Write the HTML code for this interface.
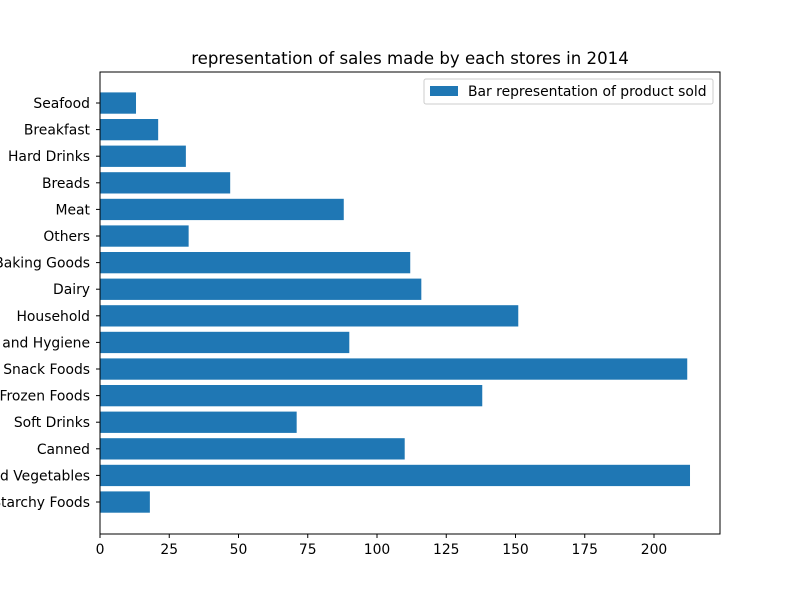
<!DOCTYPE html>
<html><head><meta charset="utf-8"><style>
body{margin:0;background:#fff}
svg{display:block;font-family:"DejaVu Sans","Liberation Sans",sans-serif}
</style></head><body>
<svg id="chart" width="800" height="600" viewBox="0 0 800 600">
<rect width="800" height="600" fill="#fff"/>
<text x="410" y="64" font-size="16.6" text-anchor="middle">representation of sales made by each stores in 2014</text>
<g id="bars"></g>
<g id="yticks"></g>
<g id="xticks"></g>
<rect x="100" y="72" width="620" height="462" fill="none" stroke="#000" stroke-width="1"/>
<g>
<rect x="424" y="79" width="289" height="25" rx="2" fill="#fff" stroke="#ccc"/>
<rect x="430" y="86" width="28" height="10" fill="#1f77b4"/>
<text x="468" y="96" font-size="13.9">Bar representation of product sold</text>
</g>
</svg>
<script>
const categories=["Starchy Foods","Fruits and Vegetables","Canned","Soft Drinks","Frozen Foods","Snack Foods","Health and Hygiene","Household","Dairy","Baking Goods","Others","Meat","Breads","Hard Drinks","Breakfast","Seafood"];
const values=[18,213,110,71,138,212,90,151,116,112,32,88,47,31,21,13];
const xTicks=[0,25,50,75,100,125,150,175,200];
const NS="http://www.w3.org/2000/svg";
const xs=v=>100+v*2.77;
const ys=i=>502-i*26.6;
const bars=document.getElementById('bars'),yt=document.getElementById('yticks'),xt=document.getElementById('xticks');
categories.forEach((c,i)=>{
  const r=document.createElementNS(NS,'rect');
  r.setAttribute('x',xs(0));r.setAttribute('y',ys(i)-10.6);
  r.setAttribute('width',xs(values[i])-xs(0));r.setAttribute('height',21.3);
  r.setAttribute('fill','#1f77b4');
  
  
  bars.appendChild(r);
  const l=document.createElementNS(NS,'line');
  l.setAttribute('x1',96);l.setAttribute('x2',100);l.setAttribute('y1',ys(i));l.setAttribute('y2',ys(i));l.setAttribute('stroke','#000');
  
  
  yt.appendChild(l);
  const t=document.createElementNS(NS,'text');
  t.setAttribute('x',90);t.setAttribute('y',ys(i)+5);t.setAttribute('font-size','13.9');t.setAttribute('text-anchor','end');
  t.textContent=c;
  
  
  yt.appendChild(t);
});
xTicks.forEach(v=>{
  const l=document.createElementNS(NS,'line');
  l.setAttribute('x1',xs(v));l.setAttribute('x2',xs(v));l.setAttribute('y1',534);l.setAttribute('y2',538);l.setAttribute('stroke','#000');
  
  
  xt.appendChild(l);
  const t=document.createElementNS(NS,'text');
  t.setAttribute('x',xs(v));t.setAttribute('y',554);t.setAttribute('font-size','13.9');t.setAttribute('text-anchor','middle');
  t.textContent=v;
  
  
  xt.appendChild(t);
});
</script>
</body></html>
